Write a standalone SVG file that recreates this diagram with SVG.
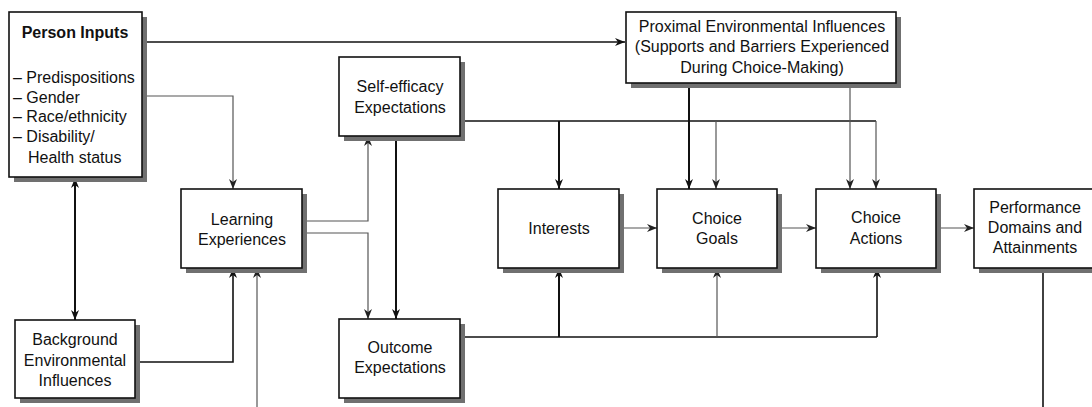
<svg xmlns="http://www.w3.org/2000/svg" width="1092" height="407" viewBox="0 0 1092 407">
<style>
.sh{fill:#707070}
.bx{fill:#fff;stroke:#111;stroke-width:1.6}
text{font-family:"Liberation Sans",Arial,sans-serif;font-size:16px;fill:#111}
.c{text-anchor:middle}
.b{font-weight:bold}
.k{fill:none;stroke:#111;stroke-width:1.6}
.kk{fill:none;stroke:#111;stroke-width:2}
.g{fill:none;stroke:#555;stroke-width:1.2}
</style>
<defs>
<marker id="ak" markerWidth="10" markerHeight="8" refX="10" refY="4" orient="auto-start-reverse" markerUnits="userSpaceOnUse"><path d="M0,0 L10,4 L0,8 L3,4 z" fill="#111"/></marker>
<marker id="ag" markerWidth="10" markerHeight="8" refX="10" refY="4" orient="auto-start-reverse" markerUnits="userSpaceOnUse"><path d="M0,0 L10,4 L0,8 L3,4 z" fill="#222"/></marker>
</defs>
<g id="connectors">
<path class="k" d="M142,42 H625" marker-end="url(#ak)"/>
<path class="g" d="M142,96 H233 V189" marker-end="url(#ag)"/>
<path class="kk" d="M75,178 V320" marker-start="url(#ak)" marker-end="url(#ak)"/>
<path class="k" d="M135,362 H233 V268" marker-end="url(#ak)"/>
<path class="g" d="M257,407 V268" marker-end="url(#ag)"/>
<path class="g" d="M302,221 H368 V136" marker-end="url(#ag)"/>
<path class="g" d="M302,233 H368 V319" marker-end="url(#ag)"/>
<path class="kk" d="M396,136 V319" marker-end="url(#ak)"/>
<path class="k" d="M460,121 H876"/>
<path class="kk" d="M559,121 V189" marker-end="url(#ak)"/>
<path class="g" d="M716,121 V189" marker-end="url(#ag)"/>
<path class="g" d="M876,121 V189" marker-end="url(#ag)"/>
<path class="kk" d="M689,83 V189" marker-end="url(#ak)"/>
<path class="g" d="M850,83 V189" marker-end="url(#ag)"/>
<path class="g" d="M619,228 H657" marker-end="url(#ag)"/>
<path class="g" d="M777,228 H816" marker-end="url(#ag)"/>
<path class="g" d="M936,228 H974" marker-end="url(#ag)"/>
<path class="k" d="M460,337 H877"/>
<path class="kk" d="M559,337 V268" marker-end="url(#ak)"/>
<path class="g" d="M717,337 V268" marker-end="url(#ag)"/>
<path class="k" d="M877,337 V268" marker-end="url(#ak)"/>
<path class="k" d="M1043,268 V407"/>
</g>
<g id="person-inputs">
<rect class="sh" x="14" y="17" width="133" height="165"/>
<rect class="bx" x="9" y="12" width="133" height="165"/>
<text class="c b" x="75" y="38">Person Inputs</text>
<text x="13" y="83">– Predispositions</text>
<text x="13" y="103">– Gender</text>
<text x="13" y="122">– Race/ethnicity</text>
<text x="13" y="142">– Disability/</text>
<text x="28" y="163">Health status</text>
</g>
<g id="proximal">
<rect class="sh" x="631" y="17" width="270" height="71"/>
<rect class="bx" x="626" y="12" width="270" height="71"/>
<text class="c" x="762" y="32">Proximal Environmental Influences</text>
<text class="c" x="762" y="52">(Supports and Barriers Experienced</text>
<text class="c" x="762" y="73">During Choice-Making)</text>
</g>
<g id="self-efficacy">
<rect class="sh" x="344" y="62" width="121" height="79"/>
<rect class="bx" x="339" y="57" width="121" height="79"/>
<text class="c" x="400" y="92">Self-efficacy</text>
<text class="c" x="400" y="113">Expectations</text>
</g>
<g id="learning">
<rect class="sh" x="186" y="194" width="121" height="79"/>
<rect class="bx" x="181" y="189" width="121" height="79"/>
<text class="c" x="242" y="225">Learning</text>
<text class="c" x="242" y="245">Experiences</text>
</g>
<g id="interests">
<rect class="sh" x="503" y="194" width="121" height="79"/>
<rect class="bx" x="498" y="189" width="121" height="79"/>
<text class="c" x="559" y="234">Interests</text>
</g>
<g id="choice-goals">
<rect class="sh" x="662" y="194" width="120" height="79"/>
<rect class="bx" x="657" y="189" width="120" height="79"/>
<text class="c" x="717" y="224">Choice</text>
<text class="c" x="717" y="244">Goals</text>
</g>
<g id="choice-actions">
<rect class="sh" x="821" y="194" width="120" height="79"/>
<rect class="bx" x="816" y="189" width="120" height="79"/>
<text class="c" x="876" y="223">Choice</text>
<text class="c" x="876" y="244">Actions</text>
</g>
<g id="performance">
<rect class="sh" x="979" y="194" width="125" height="79"/>
<rect class="bx" x="974" y="189" width="125" height="79"/>
<text class="c" x="1035" y="213">Performance</text>
<text class="c" x="1035" y="233">Domains and</text>
<text class="c" x="1035" y="253">Attainments</text>
</g>
<g id="background">
<rect class="sh" x="20" y="325" width="120" height="78"/>
<rect class="bx" x="15" y="320" width="120" height="78"/>
<text class="c" x="75" y="345">Background</text>
<text class="c" x="75" y="366">Environmental</text>
<text class="c" x="75" y="386">Influences</text>
</g>
<g id="outcome">
<rect class="sh" x="344" y="324" width="121" height="79"/>
<rect class="bx" x="339" y="319" width="121" height="79"/>
<text class="c" x="400" y="353">Outcome</text>
<text class="c" x="400" y="373">Expectations</text>
</g>
</svg>
